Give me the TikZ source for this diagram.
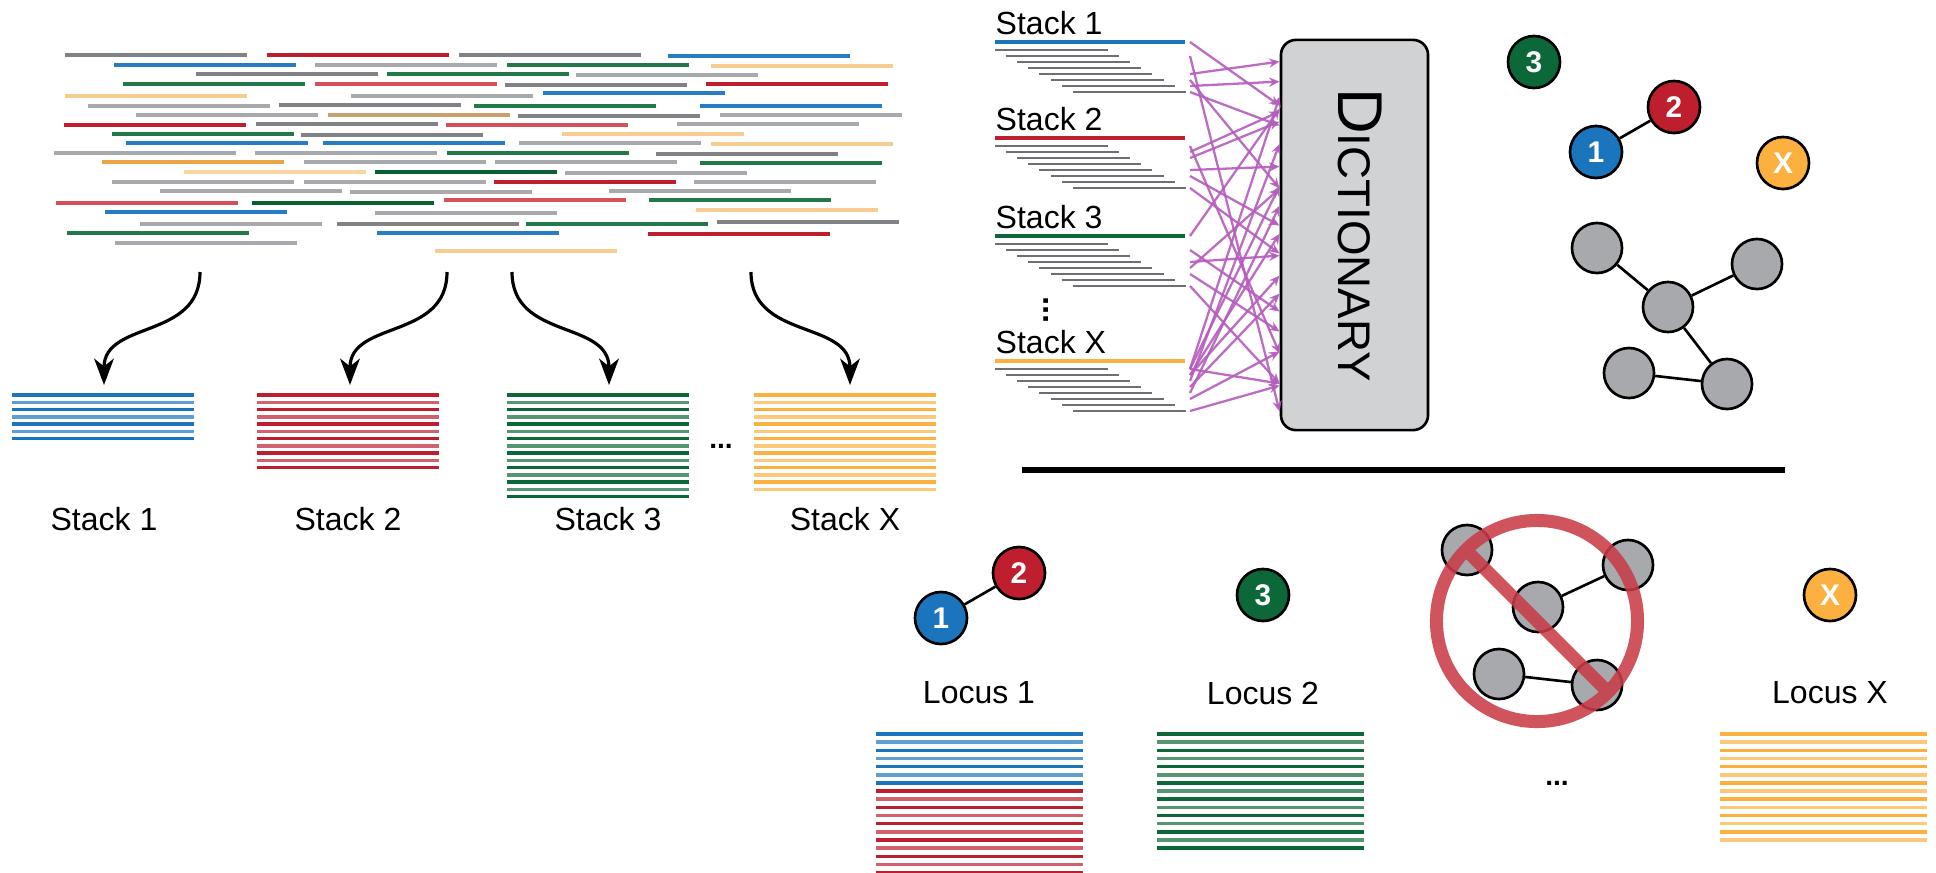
\documentclass[tikz,border=0pt]{standalone}
\usepackage{fontspec}
\setmainfont{Liberation Sans}
\usetikzlibrary{arrows.meta, calc}

\definecolor{clrblue}{RGB}{27,117,188}
\definecolor{clrred}{RGB}{190,30,45}
\definecolor{clrgreen}{RGB}{12,104,56}
\definecolor{clrorange}{RGB}{251,176,64}
\definecolor{rgray}{RGB}{128,130,133}
\definecolor{rlgray}{RGB}{167,169,172}
\definecolor{rred}{RGB}{190,30,45}
\definecolor{rlred}{RGB}{214,80,92}
\definecolor{rblue}{RGB}{39,125,195}
\definecolor{rgreen}{RGB}{34,120,72}
\definecolor{rdgreen}{RGB}{10,95,50}
\definecolor{rlorange}{RGB}{247,204,145}
\definecolor{rorange}{RGB}{236,165,70}
\definecolor{rpeach}{RGB}{252,212,160}
\definecolor{rtan}{RGB}{200,160,110}
\definecolor{readdark}{RGB}{110,111,114}
\definecolor{nodegray}{RGB}{167,169,172}
\definecolor{dictgray}{RGB}{209,210,212}
\definecolor{mapviolet}{RGB}{182,92,190}
\definecolor{forbidred}{RGB}{200,60,72}

% striped block of reads: x, y, count, colour, gap, length
\newcommand{\stripes}[6]{%
  \foreach \i in {1,...,#3}{%
    \pgfmathtruncatemacro{\shade}{mod(\i,2)==0 ? 70 : 100}%
    \draw[stripe, draw=#4!\shade] (#1,{#2+(\i-1)*#5}) -- ++(#6,0);
  }}

\begin{document}
\begin{tikzpicture}[x=0.01cm, y=-0.01cm,
    lbl/.style={font=\fontsize{9.1}{11}\selectfont, inner sep=0pt},
    read/.style={line width=0.9pt},
    stripe/.style={line width=1pt},
    locnode/.style={circle, draw=black, line width=0.75pt, minimum size=0.52cm,
      inner sep=0pt, text=white, font=\fontsize{8.5}{9}\selectfont\bfseries},
    graynode/.style={circle, draw=black, line width=0.75pt, fill=nodegray,
      minimum size=0.5cm, inner sep=0pt},
    sortarrow/.style={line width=0.9pt, -{Stealth[length=7.5pt, width=5.6pt, inset=2.2pt]}},
    maparrow/.style={draw=mapviolet, draw opacity=0.9, line width=0.65pt,
      -{Stealth[length=3pt, width=2.6pt]}},
  ]
  \useasboundingbox (0,0) rectangle (1936,872);

  % unsorted reads
  \foreach \x/\y/\c in {65/55/rgray, 267/55/rred, 459/55/rgray, 668/56/rblue,
      114/65/rblue, 315/65/rlgray, 507/65/rgreen, 711/66/rlorange,
      196/74/rgray, 387/74/rgreen, 576/75/rlgray,
      123/84/rgreen, 315/84/rlred, 505/85/rgray, 706/84/rred,
      65/96/rlorange, 351/96/rlgray, 543/93/rblue,
      88/106/rlgray, 279/105/rgray, 474/106/rgreen, 700/106/rblue,
      136/115/rlgray, 328/115/rtan, 518/116/rgray, 720/115/rlgray,
      64/125/rred, 256/124/rgray, 446/125/rlred, 677/124/rlgray,
      112/134/rgreen, 301/135/rgray, 562/134/rlorange,
      126/143/rblue, 323/143/rblue, 519/143/rlgray, 711/144/rlorange,
      54/153/rlgray, 255/153/rlgray, 447/153/rgreen, 656/154/rgray,
      102/162/rorange, 304/162/rlgray, 495/162/rlgray, 700/163/rgreen,
      184/172/rpeach, 375/172/rdgreen, 565/173/rlgray,
      112/182/rlgray, 304/182/rlgray, 494/182/rred, 694/182/rlgray,
      160/191/rlgray, 350/192/rlgray, 609/191/rlgray,
      56/203/rlred, 252/203/rdgreen, 444/200/rlred, 649/200/rgreen,
      105/212/rblue, 375/213/rlgray, 696/210/rlorange,
      140/224/rlgray, 337/224/rgray, 526/224/rgreen, 717/222/rgray,
      67/233/rgreen, 377/233/rblue, 648/234/rred,
      115/243/rlgray, 435/251/rlorange}
    \draw[read, \c] (\x,\y) -- ++(182,0);

  % sorting into stacks
  \coordinate (src1) at (200,272);
  \coordinate (src2) at (447,272);
  \coordinate (src3) at (512,272);
  \coordinate (src4) at (751,272);
  \coordinate (stk1) at (104,385);
  \coordinate (stk2) at (350,385);
  \coordinate (stk3) at (609,385);
  \coordinate (stk4) at (850,385);
  \foreach \n in {1,...,4}
    \draw[sortarrow] (src\n) .. controls ($(src\n)+(0,68)$) and ($(stk\n)+(0,-65)$) .. (stk\n);

  \stripes{12}{395}{7}{clrblue}{7.25}{182}
  \stripes{257}{395}{11}{clrred}{7.25}{182}
  \stripes{507}{395}{15}{clrgreen}{7.25}{182}
  \stripes{754}{395}{14}{clrorange}{7.25}{182}
  \node[font=\fontsize{8}{9}\selectfont\bfseries, inner sep=0pt] (dots1) at (721,446) {...};

  \node[lbl] (lbl1) at (104,519) {Stack 1};
  \node[lbl] (lbl2) at (348,519) {Stack 2};
  \node[lbl] (lbl3) at (608,519) {Stack 3};
  \node[lbl] (lblx) at (845,519) {Stack X};

  % stacks mapped to the dictionary
  \node[draw=black, line width=0.75pt, fill=dictgray, rounded corners=0.15cm,
    minimum width=1.47cm, minimum height=3.9cm] (dict) at (1354.5,235) {};
  \node[rotate=-90, inner sep=0pt] (dictlbl) at ($(dict.center)+(6,0)$)
    {\fontsize{18}{18}\selectfont D\fontsize{13}{13}\selectfont ICTIONARY};

  \foreach \name/\txt/\clr/\y in {s1/Stack 1/clrblue/42, s2/Stack 2/clrred/138,
      s3/Stack 3/clrgreen/236, sx/Stack X/clrorange/361}{
    \node[lbl, anchor=base west] (\name) at (995,\y-8) {\txt};
    \draw[line width=1.1pt, \clr] (995,\y) -- (1185,\y);
    \coordinate (\name-0) at (1190,\y);
    \foreach \k in {1,...,8}{
      \draw[line width=0.8pt, readdark] ({995+11.1*(\k-1)},{\y+8+6*(\k-1)}) -- ++(113,0);
      \coordinate (\name-\k) at (1190,{\y+8+6*(\k-1)});
    }
  }
  \node[rotate=90, inner sep=0pt, font=\fontsize{9.1}{9}\selectfont\bfseries] (vdots) at (1046,310) {...};

  \foreach \src/\off in {s1-0/67, s1-2/373, s1-5/23, s1-7/43, s1-8/87, s1-6/150,
      s2-1/315, s2-2/73, s2-3/83, s2-5/128, s2-6/187, s2-8/215,
      s3-0/70, s3-2/273, s3-4/217, s3-5/150, s3-6/293, s3-8/345,
      sx-1/58, sx-1/147, sx-2/195, sx-2/237, sx-1/345, sx-3/105,
      sx-4/255, sx-5/167, sx-8/347, sx-6/313}
    \draw[maparrow] (\src) -- ($(dict.north west)+(0,\off)$);

  % loci found in the dictionary
  \node[locnode, fill=clrgreen] (t3) at (1534,62) {3};
  \node[locnode, fill=clrred] (t2) at (1674,107) {2};
  \node[locnode, fill=clrblue] (t1) at (1596,152) {1};
  \node[locnode, fill=clrorange] (tx) at (1783,163) {X};
  \draw[line width=0.75pt] (t1) -- (t2);

  \node[graynode] (g1) at (1597,248) {};
  \node[graynode] (g2) at (1668,307) {};
  \node[graynode] (g3) at (1757,264) {};
  \node[graynode] (g4) at (1629,373) {};
  \node[graynode] (g5) at (1727,384) {};
  \draw[line width=0.75pt] (g1) -- (g2) (g2) -- (g3) (g2) -- (g5) (g4) -- (g5);

  \draw[line width=1.45pt] (1022,470) -- (1785,470);

  % final loci
  \node[locnode, fill=clrblue] (b1) at (941,618) {1};
  \node[locnode, fill=clrred] (b2) at (1019,573) {2};
  \node[locnode, fill=clrgreen] (b3) at (1263,595) {3};
  \node[locnode, fill=clrorange] (bx) at (1830,595) {X};
  \draw[line width=0.75pt] (b1) -- (b2);

  \node[graynode] (fa) at (1467,550) {};
  \node[graynode] (fb) at (1628,565) {};
  \node[graynode] (fc) at (1538,607) {};
  \node[graynode] (fd) at (1499,674) {};
  \node[graynode] (fe) at (1597,685) {};
  \draw[line width=0.75pt] (fc) -- (fb) (fd) -- (fe);
  \coordinate (nogo) at (1537,621);
  \draw[draw=forbidred, opacity=0.88, line width=3.7pt]
    (nogo) circle[radius=1.005cm] (1466,550) -- (1608,692);

  \node[lbl] (loc1) at (979,693) {Locus 1};
  \node[lbl] (loc2) at (1263,693) {Locus 2};
  \node[lbl] (locx) at (1830,693) {Locus X};

  \stripes{876}{734}{7}{clrblue}{8.15}{207}
  \stripes{876}{791.05}{11}{clrred}{8.15}{207}
  \stripes{1157}{734}{15}{clrgreen}{8.15}{207}
  \stripes{1720}{734}{14}{clrorange}{8.15}{207}
  \node[font=\fontsize{8}{9}\selectfont\bfseries, inner sep=0pt] (dots2) at (1557,783) {...};
\end{tikzpicture}
\end{document}
